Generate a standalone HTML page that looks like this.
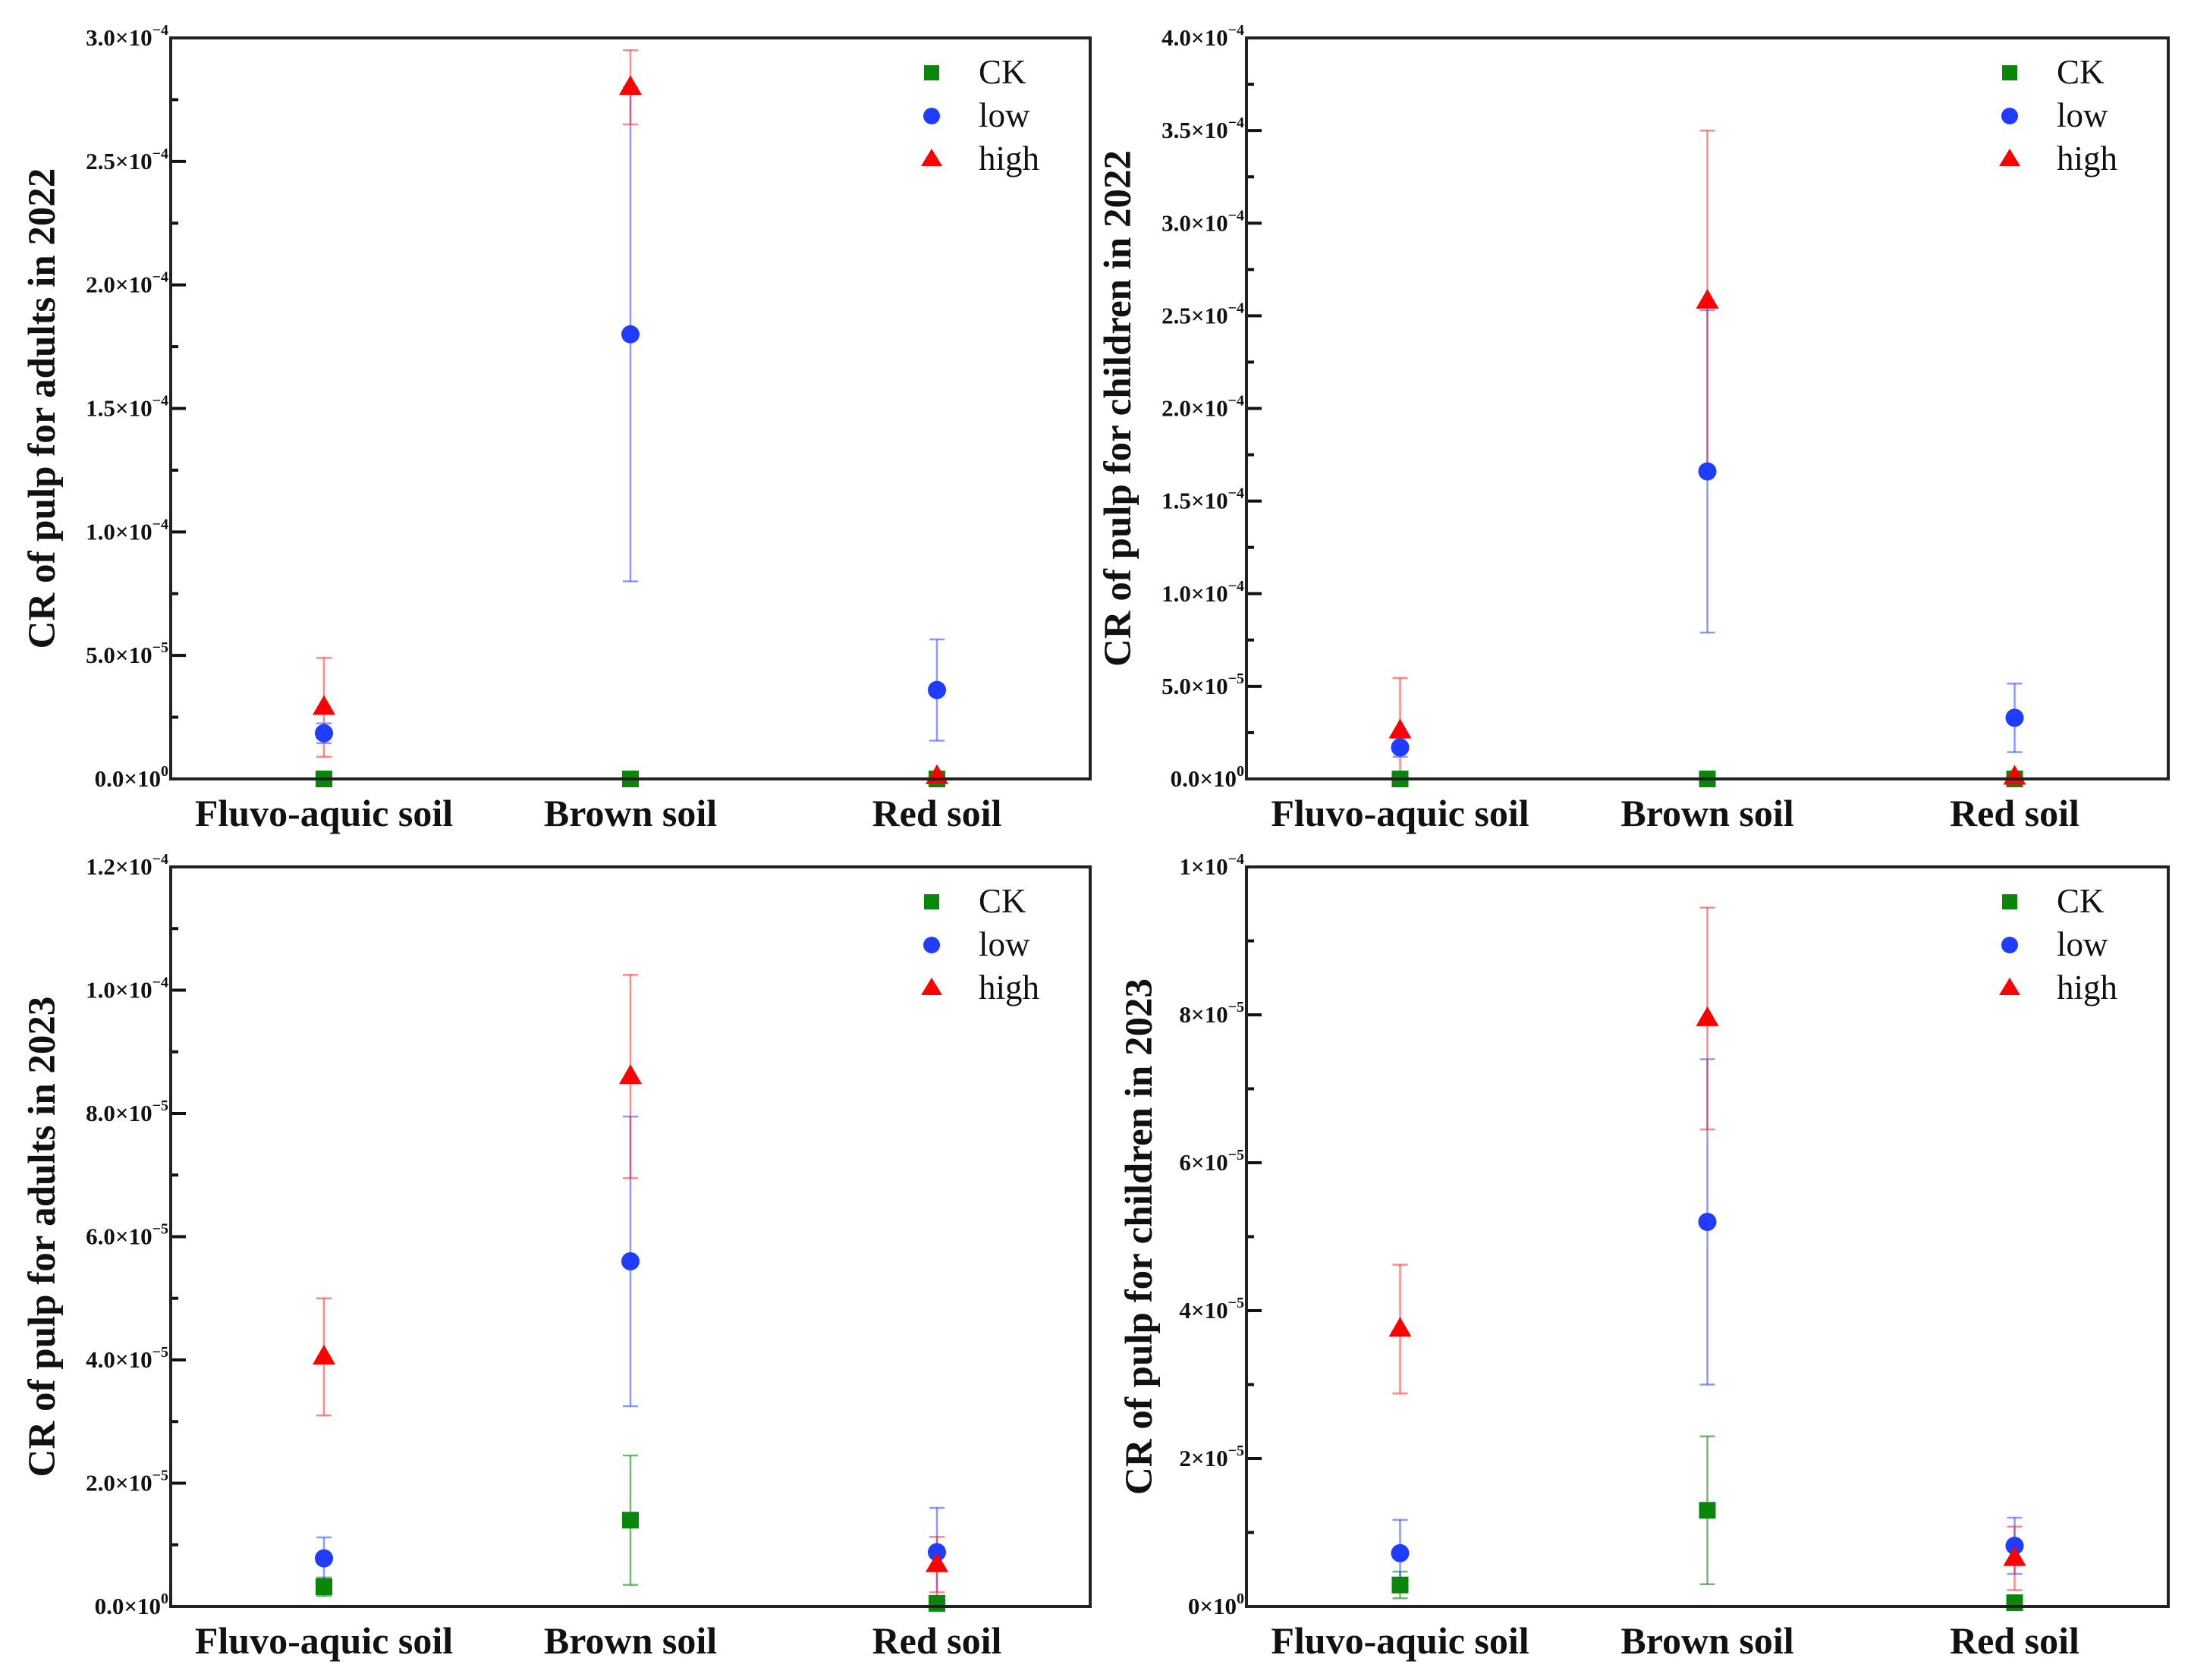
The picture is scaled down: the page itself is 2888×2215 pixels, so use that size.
<!DOCTYPE html>
<html><head><meta charset="utf-8"><style>
html,body{margin:0;padding:0;background:#fff;}
svg{display:block;font-family:"Liberation Serif",serif;}
</style></head><body>
<svg id="chart" width="2888" height="2215" viewBox="0 0 2888 2215" xmlns="http://www.w3.org/2000/svg"></svg>
<script>
const categories = ["Fluvo-aquic soil","Brown soil","Red soil"];
const seriesNames = ["CK","low","high"];
// Panel 1: adults 2022
const p1CK = [0,0,0];           const p1CKErr = [0,0,0];
const p1Low = [1.85e-5,1.8e-4,3.6e-5]; const p1LowErr = [0.4e-5,1.0e-4,2.05e-5];
const p1High = [2.9e-5,2.8e-4,0.1e-5]; const p1HighErr = [2.0e-5,0.15e-4,0];
const p1Ticks = [0,5e-5,1e-4,1.5e-4,2e-4,2.5e-4,3e-4];
const p1TickLabels = [["0.0","0"],["5.0","-5"],["1.0","-4"],["1.5","-4"],["2.0","-4"],["2.5","-4"],["3.0","-4"]];
// Panel 2: children 2022
const p2CK = [0,0,0];           const p2CKErr = [0,0,0];
const p2Low = [1.7e-5,1.66e-4,3.3e-5]; const p2LowErr = [0.5e-5,0.87e-4,1.85e-5];
const p2High = [2.6e-5,2.58e-4,0.1e-5]; const p2HighErr = [2.85e-5,0.92e-4,0];
const p2Ticks = [0,5e-5,1e-4,1.5e-4,2e-4,2.5e-4,3e-4,3.5e-4,4e-4];
const p2TickLabels = [["0.0","0"],["5.0","-5"],["1.0","-4"],["1.5","-4"],["2.0","-4"],["2.5","-4"],["3.0","-4"],["3.5","-4"],["4.0","-4"]];
// Panel 3: adults 2023
const p3CK = [3.2e-6,1.4e-5,5e-7];   const p3CKErr = [1.5e-6,1.05e-5,0.5e-6];
const p3Low = [7.8e-6,5.6e-5,8.8e-6]; const p3LowErr = [3.4e-6,2.35e-5,7.2e-6];
const p3High = [4.05e-5,8.6e-5,6.8e-6]; const p3HighErr = [0.95e-5,1.65e-5,4.5e-6];
const p3Ticks = [0,2e-5,4e-5,6e-5,8e-5,1e-4,1.2e-4];
const p3TickLabels = [["0.0","0"],["2.0","-5"],["4.0","-5"],["6.0","-5"],["8.0","-5"],["1.0","-4"],["1.2","-4"]];
// Panel 4: children 2023
const p4CK = [2.9e-6,1.3e-5,5e-7];   const p4CKErr = [1.8e-6,1.0e-5,0.5e-6];
const p4Low = [7.2e-6,5.2e-5,8.2e-6]; const p4LowErr = [4.5e-6,2.2e-5,3.8e-6];
const p4High = [3.75e-5,7.95e-5,6.5e-6]; const p4HighErr = [0.87e-5,1.5e-5,4.3e-6];
const p4Ticks = [0,2e-5,4e-5,6e-5,8e-5,1e-4];
const p4TickLabels = [["0","0"],["2","-5"],["4","-5"],["6","-5"],["8","-5"],["1","-4"]];

const NS="http://www.w3.org/2000/svg";
const svg=document.getElementById('chart');
function mk(tag,attrs,parent){const e=document.createElementNS(NS,tag);for(const k in attrs)e.setAttribute(k,attrs[k]);(parent||svg).appendChild(e);return e;}
const colors={CK:"#0a870a",low:"#1f3cff",high:"#ff0000"};
const errColors={CK:"rgba(20,140,20,0.6)",low:"rgba(40,70,255,0.55)",high:"rgba(255,40,40,0.55)"};

function panel(id,box,ymax,ticks,tickLabels,title,titleX,data){
  const g=mk('g',{});
  
  
  const L=box[0],T=box[1],R=box[2],B=box[3];
  const x=i=>L+(R-L)*(2*i+1)/6;
  const y=v=>B-(B-T)*v/ymax;
  for(let i=0;i<ticks.length;i++){
    const ty=y(ticks[i]);
    const t=mk('line',{x1:L,x2:L+20,y1:ty,y2:ty,stroke:"#111","stroke-width":4},g);
    
    
    if(i<ticks.length-1){
      const my=y((ticks[i]+ticks[i+1])/2);
      const m=mk('line',{x1:L,x2:L+10,y1:my,y2:my,stroke:"#111","stroke-width":4},g);
      
      
    }
    const tx=mk('text',{x:L-3,y:ty+10,"text-anchor":"end","font-size":31,"font-weight":"bold",fill:"#111"},g);
    
    
    tx.textContent=tickLabels[i][0]+"×10";
    const sp=mk('tspan',{dy:-14,"font-size":20},tx);
    sp.textContent=tickLabels[i][1].replace('-','−');
  }
  categories.forEach((c,i)=>{
    const t=mk('text',{x:x(i),y:B+62,"text-anchor":"middle","font-size":50,"font-weight":"bold",fill:"#111"},g);
    
    
    t.textContent=c;
  });
  const cy=(T+B)/2;
  const yt=mk('text',{x:titleX,y:cy,"text-anchor":"middle","font-size":51,"font-weight":"bold",fill:"#111",transform:`rotate(-90 ${titleX} ${cy})`},g);
  
  
  yt.textContent=title;
  seriesNames.forEach(s=>{
    const vals=data[s][0],errs=data[s][1];
    vals.forEach((v,i)=>{
      const e=errs[i]; if(e<=0)return;
      const cx=x(i),y1=y(v+e),y2=y(Math.max(0,v-e));
      const eg=mk('g',{stroke:errColors[s],"stroke-width":2.5},g);
      
      
      mk('line',{x1:cx,x2:cx,y1:y1,y2:y2},eg);
      mk('line',{x1:cx-10,x2:cx+10,y1:y1,y2:y1},eg);
      mk('line',{x1:cx-10,x2:cx+10,y1:y2,y2:y2},eg);
    });
  });
  seriesNames.forEach(s=>{
    data[s][0].forEach((v,i)=>{
      const cx=x(i),cyy=y(v);
      let m;
      if(s==="CK") m=mk('rect',{x:cx-11,y:cyy-11,width:22,height:22,fill:colors[s]},g);
      else if(s==="low") m=mk('circle',{cx:cx,cy:cyy,r:12,fill:colors[s]},g);
      else m=mk('polygon',{points:`${cx},${cyy-16} ${cx-15},${cyy+10} ${cx+15},${cyy+10}`,fill:colors[s]},g);
      
      
    });
  });
  const f=mk('rect',{x:L,y:T,width:R-L,height:B-T,fill:"none",stroke:"#222","stroke-width":4},g);
  
  
  const lx=R-209, ly=T+46;
  seriesNames.forEach((s,k)=>{
    const yy=ly+k*57;
    let m;
    if(s==="CK") m=mk('rect',{x:lx-10,y:yy-10,width:20,height:20,fill:colors[s]},g);
    else if(s==="low") m=mk('circle',{cx:lx,cy:yy,r:11,fill:colors[s]},g);
    else m=mk('polygon',{points:`${lx},${yy-14} ${lx-14},${yy+9} ${lx+14},${yy+9}`,fill:colors[s]},g);
    
    
    const t=mk('text',{x:lx+62,y:yy+14,"font-size":45,fill:"#111"},g);
    
    
    t.textContent=s;
  });
}
panel('panel-adults-2022',[225,50,1437,1027],3e-4,p1Ticks,p1TickLabels,"CR of pulp for adults in 2022",72,
  {CK:[p1CK,p1CKErr],low:[p1Low,p1LowErr],high:[p1High,p1HighErr]});
panel('panel-children-2022',[1643,50,2858,1027],4e-4,p2Ticks,p2TickLabels,"CR of pulp for children in 2022",1490,
  {CK:[p2CK,p2CKErr],low:[p2Low,p2LowErr],high:[p2High,p2HighErr]});
panel('panel-adults-2023',[225,1143,1437,2118],1.2e-4,p3Ticks,p3TickLabels,"CR of pulp for adults in 2023",72,
  {CK:[p3CK,p3CKErr],low:[p3Low,p3LowErr],high:[p3High,p3HighErr]});
panel('panel-children-2023',[1643,1143,2858,2118],1e-4,p4Ticks,p4TickLabels,"CR of pulp for children in 2023",1518,
  {CK:[p4CK,p4CKErr],low:[p4Low,p4LowErr],high:[p4High,p4HighErr]});
</script>
</body></html>
